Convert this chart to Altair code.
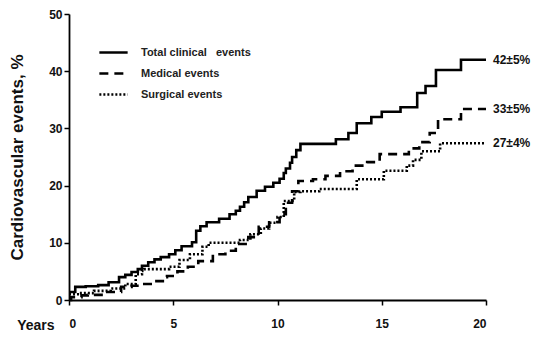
import altair as alt
import pandas as pd

series_names = ["Total clinical\u00a0\u00a0 events", "Medical events", "Surgical events"]

total_t = [0, 0.3, 0.8, 1.4, 1.9, 2.4, 2.7, 3.0, 3.3, 3.5, 3.8, 4.1, 4.4, 4.8, 5.1, 5.4, 5.9, 6.1, 6.3, 6.6, 7.2, 7.7,
           8.0, 8.2, 8.4, 8.6, 9.0, 9.4, 9.8, 10.1, 10.3, 10.4, 10.6, 10.7, 10.9, 11.1, 12.8, 13.4, 13.8, 14.5,
           15.0, 15.9, 16.7, 17.1, 17.6, 18.8, 20.0]
total_v = [1.4, 2.3, 2.4, 2.6, 3.1, 4.0, 4.4, 4.9, 5.4, 6.0, 6.6, 7.1, 7.5, 8.0, 8.7, 9.4, 10.1, 12.1, 12.9, 13.6, 14.2,
           15.0, 15.6, 16.3, 17.1, 18.0, 19.1, 19.8, 20.5, 21.2, 22.2, 23.0, 24.0, 25.0, 26.2, 27.3, 28.1, 29.2,
           30.9, 32.0, 32.9, 33.7, 36.2, 37.4, 40.2, 42.0, 42.0]

med_t = [0, 0.1, 0.6, 0.9, 1.7, 2.5, 3.0, 3.5, 4.0, 4.5, 4.7, 5.2, 5.7, 6.2, 6.9, 7.5, 8.0, 8.6, 9.1, 9.6, 10.1,
         10.4, 10.7, 11.0, 11.7, 12.3, 13.0, 13.6, 14.3, 14.9, 16.3, 16.8, 17.3, 17.7, 18.8, 20.0]
med_v = [0.0, 0.5, 0.8, 0.9, 1.4, 2.3, 2.5, 2.8, 3.3, 4.0, 4.2, 5.0, 5.8, 6.8, 8.0, 8.6, 9.8, 11.0, 12.8, 13.6, 15.0,
         17.0, 19.0, 20.8, 21.1, 21.7, 22.5, 23.5, 24.1, 25.5, 26.5, 27.6, 29.2, 31.6, 33.4, 33.4]

surg_t = [0, 0.5, 1.2, 2.0, 2.7, 3.2, 3.5, 3.6, 4.8, 5.3, 5.8, 6.4, 6.7, 8.0, 8.2, 8.7, 9.2, 9.6, 10.0, 10.3, 10.8,
          11.1, 12.0, 13.8, 15.1, 16.2, 16.5, 16.9, 17.8, 20.0]
surg_v = [1.0, 1.2, 1.6, 2.0, 2.8, 4.5, 5.1, 5.4, 5.8, 7.0, 8.0, 9.3, 10.0, 10.0, 10.5, 11.5, 12.5, 13.5, 14.5, 17.3,
          18.9, 19.0, 19.4, 21.1, 22.6, 23.5, 24.5, 26.0, 27.4, 27.4]

end_labels = ["42±5%", "33±5%", "27±4%"]
end_values = [42.0, 33.4, 27.4]

rows = []
for name, ts, vs in zip(series_names, [total_t, med_t, surg_t], [total_v, med_v, surg_v]):
    for t, v in zip(ts, vs):
        rows.append({"t": t, "v": v, "series": name})
df = pd.DataFrame(rows)

df_end = pd.DataFrame({"t": [20.0] * 3, "v": end_values, "label": end_labels})

FONT = "Liberation Sans"

lines = alt.Chart(df).mark_line(interpolate="step-after", color="black").encode(
    x=alt.X("t:Q", scale=alt.Scale(domain=[0, 20], nice=False),
            axis=alt.Axis(values=[0, 5, 10, 15, 20], title="Years", titleAlign="right", titleX=-15,
                          titleY=25, titleBaseline="middle", titleAngle=0)),
    y=alt.Y("v:Q", scale=alt.Scale(domain=[0, 50], nice=False),
            axis=alt.Axis(values=[0, 10, 20, 30, 40, 50], title="Cardiovascular events, %")),
    strokeDash=alt.StrokeDash("series:N", scale=alt.Scale(domain=series_names, range=[[1, 0], [9, 6], [2, 2]]),
                              legend=alt.Legend(title=None, orient="none", legendX=29, legendY=23,
                                                symbolType="stroke", symbolSize=800, symbolStrokeWidth=2.2,
                                                symbolStrokeColor="black", labelFont=FONT, labelFontSize=11,
                                                labelFontWeight="bold", labelColor="#222", rowPadding=-5,
                                                labelOffset=12)),
    strokeWidth=alt.StrokeWidth("series:N", scale=alt.Scale(domain=series_names, range=[2.6, 2.6, 1.8]),
                                legend=None),
    order="t:Q",
)

labels = alt.Chart(df_end).mark_text(align="left", dx=7, font=FONT, fontSize=12, fontWeight="bold",
                                     color="#111").encode(
    x="t:Q", y="v:Q", text="label:N")

chart = (lines + labels).properties(width=417, height=286).configure_view(stroke=None).configure_axis(
    domainColor="black", domainWidth=1.8, tickColor="black", tickWidth=1.5, tickSize=5, grid=False,
    labelFont=FONT, labelFontSize=12, labelFontWeight="bold", labelColor="#111",
    titleFont=FONT, titleFontWeight="bold", titleColor="#111"
).configure_axisY(titleFontSize=17, titlePadding=22).configure_axisX(titleFontSize=14, labelPadding=13
).properties(padding={"left": 0, "top": 0, "right": 2, "bottom": 0})

chart.save("out.html", embed_options={"renderer": "svg", "actions": False})
